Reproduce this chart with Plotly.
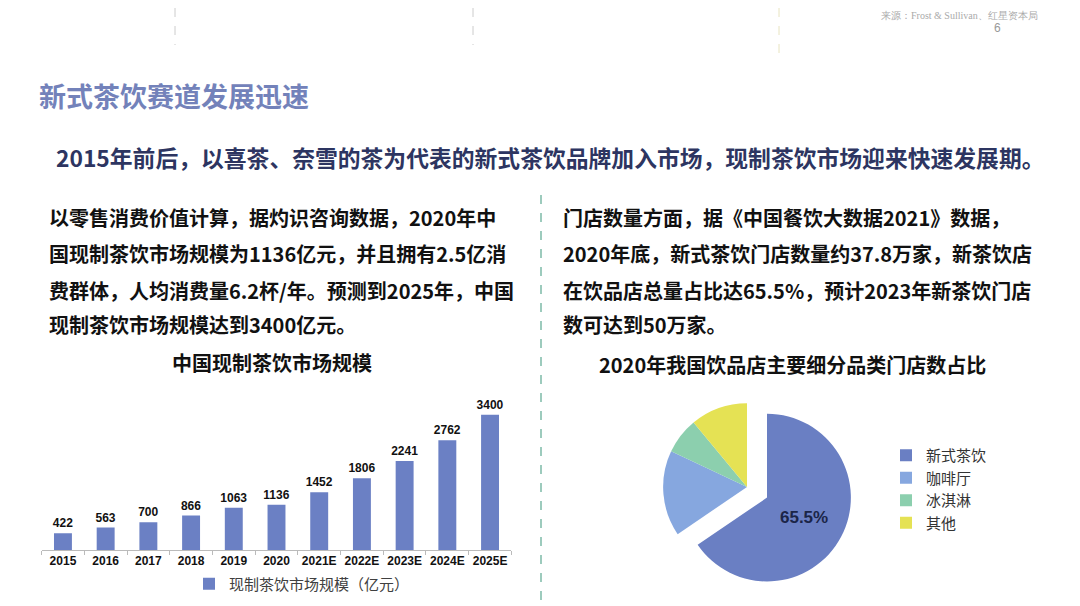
import plotly.graph_objects as go

# data
years = ["2015", "2016", "2017", "2018", "2019", "2020",
         "2021E", "2022E", "2023E", "2024E", "2025E"]
market_size = [422, 563, 700, 866, 1063, 1136, 1452, 1806, 2241, 2762, 3400]
bar_name = "现制茶饮市场规模（亿元）"

shop_types = ["新式茶饮", "咖啡厅", "冰淇淋", "其他"]
shop_share = [65.5, 16.5, 7.0, 11.0]
pie_colors = ["#6A7FC3", "#86A7DF", "#8CCFAE", "#E5E254"]

title = "新式茶饮赛道发展迅速"
subtitle = "2015年前后，以喜茶、奈雪的茶为代表的新式茶饮品牌加入市场，现制茶饮市场迎来快速发展期。"
left_lines = [
    "以零售消费价值计算，据灼识咨询数据，2020年中",
    "国现制茶饮市场规模为1136亿元，并且拥有2.5亿消",
    "费群体，人均消费量6.2杯/年。预测到2025年，中国",
    "现制茶饮市场规模达到3400亿元。",
]
right_lines = [
    "门店数量方面，据《中国餐饮大数据2021》数据，",
    "2020年底，新式茶饮门店数量约37.8万家，新茶饮店",
    "在饮品店总量占比达65.5%，预计2023年新茶饮门店",
    "数可达到50万家。",
]
bar_title = "中国现制茶饮市场规模"
pie_title = "2020年我国饮品店主要细分品类门店数占比"
source = "来源：Frost & Sullivan、红星资本局"

W, H = 1080, 606
OFF = 8  # page body margin of the browser
CJK = "Noto Sans CJK SC"


def px(x):
    return (x - OFF) / W


def py(y):
    return 1 - (y - OFF) / H


fig = go.Figure()

fig.add_trace(go.Bar(
    x=years, y=market_size, name=bar_name,
    marker=dict(color="#6B80C4", line=dict(width=0)),
    width=0.42,
    texttemplate="%{y}", textposition="outside", cliponaxis=False,
    constraintext="none",
    textfont=dict(family="Liberation Sans, Arial", size=12, color="#111", weight="bold"),
    showlegend=True, legend="legend",
))

fig.add_trace(go.Pie(
    labels=shop_types, values=shop_share, sort=False, direction="clockwise",
    rotation=0, pull=[0.27, 0, 0, 0],
    marker=dict(colors=pie_colors, line=dict(width=0)),
    texttemplate=["%{percent:.1%}", "", "", ""], textposition="inside",
    insidetextorientation="horizontal",
    textfont=dict(family="Liberation Sans, Arial", size=17, color="#1B2548", weight="bold"),
    domain=dict(x=[px(640.5), px(853.5)], y=[py(593.5), py(380.5)]),
    showlegend=True, legend="legend2",
))

fig.update_layout(
    width=W, height=H,
    margin=dict(l=0, r=0, t=0, b=0, autoexpand=False),
    paper_bgcolor="white", plot_bgcolor="white",
    font=dict(family=CJK),
    showlegend=True,
    xaxis=dict(domain=[px(41.6), px(511.4)], showline=True, linecolor="#BBBBBB",
               ticks="outside", tickson="boundaries", ticklen=4, tickcolor="#BBBBBB",
               tickangle=0,
               tickfont=dict(family="Liberation Sans, Arial", size=12, color="#111", weight="bold"),
               showgrid=False, fixedrange=True),
    yaxis=dict(domain=[py(550), py(395)], range=[0, 3900], visible=False, fixedrange=True),
    legend=dict(orientation="h", x=px(302), xanchor="center", y=py(584), yanchor="middle",
                font=dict(family=CJK, size=15, color="#404040"), bgcolor="rgba(0,0,0,0)"),
    legend2=dict(orientation="v", x=px(886), xanchor="left", y=py(489), yanchor="middle",
                 font=dict(family=CJK, size=15, color="#333"), bgcolor="rgba(0,0,0,0)"),
)

ann = []
ann.append(dict(text=title, x=px(37), y=py(95), xanchor="left", yanchor="middle",
                font=dict(family=CJK, size=27, color="#7382BA", weight="bold")))
ann.append(dict(text=subtitle, x=px(550), y=py(157), xanchor="center", yanchor="middle",
                font=dict(family=CJK, size=22.8, color="#2D3561", weight="bold")))
line_y = [217, 253, 290, 325]
for i, (l, r) in enumerate(zip(left_lines, right_lines)):
    ann.append(dict(text=l, x=px(47), y=py(line_y[i]), xanchor="left", yanchor="middle",
                    font=dict(family=CJK, size=20, color="#111", weight="bold")))
    ann.append(dict(text=r, x=px(561), y=py(line_y[i]), xanchor="left", yanchor="middle",
                    font=dict(family=CJK, size=20, color="#111", weight="bold")))
ann.append(dict(text=bar_title, x=px(272), y=py(362), xanchor="center", yanchor="middle",
                font=dict(family=CJK, size=20, color="#111", weight="bold")))
ann.append(dict(text=pie_title, x=px(792), y=py(364), xanchor="center", yanchor="middle",
                font=dict(family=CJK, size=20, color="#111", weight="bold")))
ann.append(dict(text=source, x=px(1040), y=py(OFF), xanchor="right", yanchor="top",
                font=dict(family="Liberation Serif, serif", size=10, color="#AAA")))
ann.append(dict(text="6", x=px(997), y=py(28), xanchor="center", yanchor="middle",
                font=dict(family="Liberation Sans", size=12, color="#999")))
for a in ann:
    a.update(xref="paper", yref="paper", showarrow=False)
fig.update_layout(annotations=ann)

# decorative dashed lines of the slide
shapes = [
    dict(type="line", x0=px(541), x1=px(541), y0=py(195), y1=py(614),
         line=dict(color="#9DCBBD", width=2, dash="dash")),
    dict(type="line", x0=px(175), x1=px(175), y0=py(OFF), y1=py(45),
         line=dict(color="#CCCCCC", width=1, dash="dash")),
    dict(type="line", x0=px(473), x1=px(473), y0=py(OFF), y1=py(45),
         line=dict(color="#CCCCCC", width=1, dash="dash")),
    dict(type="line", x0=px(779), x1=px(779), y0=py(OFF), y1=py(58),
         line=dict(color="#E8E4C0", width=1, dash="dash")),
]
for s in shapes:
    s.update(xref="paper", yref="paper")
fig.update_layout(shapes=shapes)

fig.write_html("out.html")
